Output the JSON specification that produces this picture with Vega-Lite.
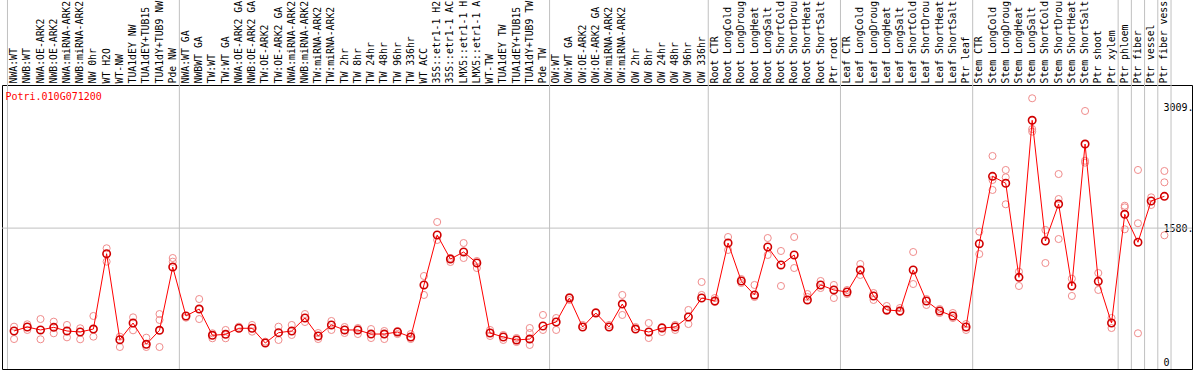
{
  "$schema": "https://vega.github.io/schema/vega-lite/v6.json",
  "width": 1190,
  "height": 284,
  "autosize": {"type": "none"},
  "padding": {"left": 2, "top": 85, "right": 2, "bottom": 1},
  "background": "white",
  "config": {"view": {"stroke": "black", "strokeWidth": 1}},
  "datasets": {
    "means": [
      {"i":0,"label":"NWA:WT","value":366},{"i":1,"label":"NWB:WT","value":413},{"i":2,"label":"NWA:OE-ARK2","value":378},{"i":3,"label":"NWB:OE-ARK2","value":409},
      {"i":4,"label":"NWA:miRNA-ARK2","value":366},{"i":5,"label":"NWB:miRNA-ARK2","value":354},{"i":6,"label":"NW 0hr","value":389},{"i":7,"label":"WT H2O","value":1278},
      {"i":8,"label":"WT-NW","value":263},{"i":9,"label":"TUA1dEY NW","value":460},{"i":10,"label":"TUA1dEY+TUB15","value":209},{"i":11,"label":"TUA1dY+TUB9 NW","value":374},
      {"i":12,"label":"Pde NW","value":1121},{"i":13,"label":"NWA:WT GA","value":543},{"i":14,"label":"NWBWT GA","value":625},{"i":15,"label":"TW:WT","value":315},
      {"i":16,"label":"TW:WT GA","value":327},{"i":17,"label":"NWA:OE-ARK2 GA","value":398},{"i":18,"label":"NWB:OE-ARK2 GA","value":398},{"i":19,"label":"TW:OE-ARK2","value":224},
      {"i":20,"label":"TW:OE-ARK2 GA","value":346},{"i":21,"label":"NWA:miRNA-ARK2 ","value":366},{"i":22,"label":"NWB:miRNA-ARK2 ","value":519},{"i":23,"label":"TW:miRNA-ARK2","value":307},
      {"i":24,"label":"TW:miRNA-ARK2 ","value":437},{"i":25,"label":"TW 2hr","value":378},{"i":26,"label":"TW 8hr","value":378},{"i":27,"label":"TW 24hr","value":330},
      {"i":28,"label":"TW 48hr","value":330},{"i":29,"label":"TW 96hr","value":354},{"i":30,"label":"TW 336hr","value":295},{"i":31,"label":"WT ACC","value":909},
      {"i":32,"label":"35S::etr1-1 H2","value":1499},{"i":33,"label":"35S::etr1-1 AC","value":1215},{"i":34,"label":"LMX5::etr1-1 H","value":1298},{"i":35,"label":"LMX5::etr1-1 A","value":1168},
      {"i":36,"label":"WT-TW","value":342},{"i":37,"label":"TUA1dEY TW","value":295},{"i":38,"label":"TUA1dEY+TUB15 ","value":260},{"i":39,"label":"TUA1dY+TUB9 TW","value":271},
      {"i":40,"label":"Pde TW","value":425},{"i":41,"label":"OW:WT","value":472},{"i":42,"label":"OW:WT GA","value":755},{"i":43,"label":"OW:OE-ARK2","value":413},
      {"i":44,"label":"OW:OE-ARK2 GA","value":578},{"i":45,"label":"OW:miRNA-ARK2","value":413},{"i":46,"label":"OW:miRNA-ARK2 ","value":684},{"i":47,"label":"OW 2hr","value":389},
      {"i":48,"label":"OW 8hr","value":354},{"i":49,"label":"OW 24hr","value":401},{"i":50,"label":"OW 48hr","value":413},{"i":51,"label":"OW 96hr","value":531},
      {"i":52,"label":"OW 336hr","value":755},{"i":53,"label":"Root CTR","value":720},{"i":54,"label":"Root LongCold","value":1404},{"i":55,"label":"Root LongDroug","value":956},
      {"i":56,"label":"Root LongHeat","value":791},{"i":57,"label":"Root LongSalt","value":1357},{"i":58,"label":"Root ShortCold","value":1145},{"i":59,"label":"Root ShortDrou","value":1263},
      {"i":60,"label":"Root ShortHeat","value":732},{"i":61,"label":"Root ShortSalt","value":909},{"i":62,"label":"Ptr root","value":850},{"i":63,"label":"Leaf CTR","value":826},
      {"i":64,"label":"Leaf LongCold","value":1086},{"i":65,"label":"Leaf LongDroug","value":779},{"i":66,"label":"Leaf LongHeat","value":614},{"i":67,"label":"Leaf LongSalt","value":602},
      {"i":68,"label":"Leaf ShortCold","value":1086},{"i":69,"label":"Leaf ShortDrou","value":720},{"i":70,"label":"Leaf ShortHeat","value":602},{"i":71,"label":"Leaf ShortSalt","value":543},
      {"i":72,"label":"Ptr leaf","value":413},{"i":73,"label":"Stem CTR","value":1396},{"i":74,"label":"Stem LongCold","value":2191},{"i":75,"label":"Stem LongDroug","value":2109},
      {"i":76,"label":"Stem LongHeat","value":999},{"i":77,"label":"Stem LongSalt","value":2852},{"i":78,"label":"Stem ShortCold","value":1428},{"i":79,"label":"Stem ShortDrou","value":1864},
      {"i":80,"label":"Stem ShortHeat","value":897},{"i":81,"label":"Stem ShortSalt","value":2572},{"i":82,"label":"Ptr shoot","value":952},{"i":83,"label":"Ptr xylem","value":460},
      {"i":84,"label":"Ptr phloem","value":1743},{"i":85,"label":"Ptr fiber","value":1413},{"i":86,"label":"Ptr vessel","value":1900},{"i":87,"label":"Ptr fiber vess","value":1955}
    ],
    "reps": [
      {"label":"NWA:WT","value":417},{"label":"NWA:WT","value":271},
      {"label":"NWB:WT","value":445},{"label":"NWB:WT","value":378},
      {"label":"NWA:OE-ARK2","value":507},{"label":"NWA:OE-ARK2","value":268},
      {"label":"NWB:OE-ARK2","value":476},{"label":"NWB:OE-ARK2","value":339},
      {"label":"NWA:miRNA-ARK2","value":437},{"label":"NWA:miRNA-ARK2","value":291},
      {"label":"NWB:miRNA-ARK2","value":398},{"label":"NWB:miRNA-ARK2","value":268},
      {"label":"NW 0hr","value":543},{"label":"NW 0hr","value":299},
      {"label":"WT H2O","value":1342},{"label":"WT H2O","value":1184},
      {"label":"WT-NW","value":299},{"label":"WT-NW","value":177},
      {"label":"TUA1dEY NW","value":527},{"label":"TUA1dEY NW","value":374},
      {"label":"TUA1dEY+TUB15","value":287},{"label":"TUA1dEY+TUB15","value":177},
      {"label":"TUA1dY+TUB9 NW","value":566},{"label":"TUA1dY+TUB9 NW","value":496},{"label":"TUA1dY+TUB9 NW","value":177},
      {"label":"Pde NW","value":1184},{"label":"Pde NW","value":1227},
      {"label":"NWA:WT GA","value":523},
      {"label":"NWBWT GA","value":743},{"label":"NWBWT GA","value":507},
      {"label":"TW:WT","value":339},{"label":"TW:WT","value":280},
      {"label":"TW:WT GA","value":378},{"label":"TW:WT GA","value":280},
      {"label":"NWA:OE-ARK2 GA","value":417},
      {"label":"NWB:OE-ARK2 GA","value":437},{"label":"NWB:OE-ARK2 GA","value":358},
      {"label":"TW:OE-ARK2","value":240},
      {"label":"TW:OE-ARK2 GA","value":417},{"label":"TW:OE-ARK2 GA","value":260},
      {"label":"NWA:miRNA-ARK2 ","value":437},{"label":"NWA:miRNA-ARK2 ","value":319},
      {"label":"NWB:miRNA-ARK2 ","value":566},{"label":"NWB:miRNA-ARK2 ","value":472},
      {"label":"TW:miRNA-ARK2","value":342},{"label":"TW:miRNA-ARK2","value":271},
      {"label":"TW:miRNA-ARK2 ","value":484},{"label":"TW:miRNA-ARK2 ","value":378},
      {"label":"TW 2hr","value":413},{"label":"TW 2hr","value":342},
      {"label":"TW 8hr","value":401},{"label":"TW 8hr","value":330},
      {"label":"TW 24hr","value":389},{"label":"TW 24hr","value":283},
      {"label":"TW 48hr","value":366},{"label":"TW 48hr","value":271},
      {"label":"TW 96hr","value":366},{"label":"TW 96hr","value":330},
      {"label":"TW 336hr","value":330},{"label":"TW 336hr","value":271},
      {"label":"WT ACC","value":1015},{"label":"WT ACC","value":791},
      {"label":"35S::etr1-1 H2","value":1652},{"label":"35S::etr1-1 H2","value":1440},
      {"label":"35S::etr1-1 AC","value":1227},{"label":"35S::etr1-1 AC","value":1180},
      {"label":"LMX5::etr1-1 H","value":1404},{"label":"LMX5::etr1-1 H","value":1227},
      {"label":"LMX5::etr1-1 A","value":1192},{"label":"LMX5::etr1-1 A","value":1109},
      {"label":"WT-TW","value":378},{"label":"WT-TW","value":307},
      {"label":"TUA1dEY TW","value":319},{"label":"TUA1dEY TW","value":260},
      {"label":"TUA1dEY+TUB15 ","value":283},{"label":"TUA1dEY+TUB15 ","value":236},
      {"label":"TUA1dY+TUB9 TW","value":401},{"label":"TUA1dY+TUB9 TW","value":342},{"label":"TUA1dY+TUB9 TW","value":201},
      {"label":"Pde TW","value":555},{"label":"Pde TW","value":378},
      {"label":"OW:WT","value":519},{"label":"OW:WT","value":378},
      {"label":"OW:WT GA","value":767},{"label":"OW:WT GA","value":732},
      {"label":"OW:OE-ARK2","value":437},
      {"label":"OW:OE-ARK2 GA","value":590},
      {"label":"OW:miRNA-ARK2","value":437},
      {"label":"OW:miRNA-ARK2 ","value":791},{"label":"OW:miRNA-ARK2 ","value":555},
      {"label":"OW 2hr","value":413},
      {"label":"OW 8hr","value":460},{"label":"OW 8hr","value":283},
      {"label":"OW 24hr","value":413},{"label":"OW 24hr","value":354},
      {"label":"OW 48hr","value":437},{"label":"OW 48hr","value":378},
      {"label":"OW 96hr","value":614},{"label":"OW 96hr","value":448},
      {"label":"OW 336hr","value":944},{"label":"OW 336hr","value":791},
      {"label":"Root CTR","value":755},{"label":"Root CTR","value":708},
      {"label":"Root LongCold","value":1475},{"label":"Root LongCold","value":1322},
      {"label":"Root LongDroug","value":979},{"label":"Root LongDroug","value":932},
      {"label":"Root LongHeat","value":909},{"label":"Root LongHeat","value":767},
      {"label":"Root LongSalt","value":1463},{"label":"Root LongSalt","value":1263},
      {"label":"Root ShortCold","value":1310},{"label":"Root ShortCold","value":897},
      {"label":"Root ShortDrou","value":1475},{"label":"Root ShortDrou","value":1109},
      {"label":"Root ShortHeat","value":802},{"label":"Root ShortHeat","value":767},
      {"label":"Root ShortSalt","value":956},{"label":"Root ShortSalt","value":873},
      {"label":"Ptr root","value":909},{"label":"Ptr root","value":755},
      {"label":"Leaf CTR","value":850},{"label":"Leaf CTR","value":802},
      {"label":"Leaf LongCold","value":1156},{"label":"Leaf LongCold","value":1027},
      {"label":"Leaf LongDroug","value":814},{"label":"Leaf LongDroug","value":732},
      {"label":"Leaf LongHeat","value":661},{"label":"Leaf LongHeat","value":602},
      {"label":"Leaf LongSalt","value":637},{"label":"Leaf LongSalt","value":590},
      {"label":"Leaf ShortCold","value":1298},{"label":"Leaf ShortCold","value":920},
      {"label":"Leaf ShortDrou","value":743},{"label":"Leaf ShortDrou","value":673},
      {"label":"Leaf ShortHeat","value":625},{"label":"Leaf ShortHeat","value":578},
      {"label":"Leaf ShortSalt","value":578},{"label":"Leaf ShortSalt","value":519},
      {"label":"Ptr leaf","value":448},{"label":"Ptr leaf","value":378},
      {"label":"Stem CTR","value":1538},{"label":"Stem CTR","value":1274},
      {"label":"Stem LongCold","value":2431},{"label":"Stem LongCold","value":2030},{"label":"Stem LongCold","value":2148},
      {"label":"Stem LongDroug","value":2266},{"label":"Stem LongDroug","value":2179},{"label":"Stem LongDroug","value":1861},
      {"label":"Stem LongHeat","value":1066},{"label":"Stem LongHeat","value":897},
      {"label":"Stem LongSalt","value":3112},{"label":"Stem LongSalt","value":2718},{"label":"Stem LongSalt","value":2749},
      {"label":"Stem ShortCold","value":1558},{"label":"Stem ShortCold","value":1168},
      {"label":"Stem ShortDrou","value":2218},{"label":"Stem ShortDrou","value":1923},{"label":"Stem ShortDrou","value":1451},
      {"label":"Stem ShortHeat","value":983},{"label":"Stem ShortHeat","value":779},
      {"label":"Stem ShortSalt","value":2962},{"label":"Stem ShortSalt","value":2375},{"label":"Stem ShortSalt","value":2352},
      {"label":"Ptr shoot","value":1050},{"label":"Ptr shoot","value":850},
      {"label":"Ptr xylem","value":519},{"label":"Ptr xylem","value":401},
      {"label":"Ptr phloem","value":1844},{"label":"Ptr phloem","value":1825},{"label":"Ptr phloem","value":1566},
      {"label":"Ptr fiber","value":2266},{"label":"Ptr fiber","value":1637},{"label":"Ptr fiber","value":339},
      {"label":"Ptr vessel","value":1943},{"label":"Ptr vessel","value":1853},
      {"label":"Ptr fiber vess","value":2254},{"label":"Ptr fiber vess","value":2120},{"label":"Ptr fiber vess","value":1495}
    ],
    "seps": [
      {"label":"NWA:WT"},{"label":"NWA:WT GA"},{"label":"OW:WT"},{"label":"Root CTR"},{"label":"Leaf CTR"},
      {"label":"Stem CTR"},{"label":"Ptr phloem"},{"label":"Ptr fiber"},{"label":"Ptr vessel"},{"label":"Ptr fiber vess"}
    ],
    "title": [{"name": "Potri.010G071200"}]
  },
  "layer": [
    {
      "data": {"name": "seps"},
      "mark": {"type": "rule", "color": "#c0c0c0", "strokeWidth": 1},
      "encoding": {
        "x": {"field": "label", "type": "nominal", "bandPosition": 0,
          "scale": {"type": "band", "paddingInner": 0, "paddingOuter": 1.769, "align": 0.2065, "round": false,
            "domain": ["NWA:WT","NWB:WT","NWA:OE-ARK2","NWB:OE-ARK2","NWA:miRNA-ARK2","NWB:miRNA-ARK2","NW 0hr","WT H2O","WT-NW","TUA1dEY NW","TUA1dEY+TUB15","TUA1dY+TUB9 NW","Pde NW","NWA:WT GA","NWBWT GA","TW:WT","TW:WT GA","NWA:OE-ARK2 GA","NWB:OE-ARK2 GA","TW:OE-ARK2","TW:OE-ARK2 GA","NWA:miRNA-ARK2 ","NWB:miRNA-ARK2 ","TW:miRNA-ARK2","TW:miRNA-ARK2 ","TW 2hr","TW 8hr","TW 24hr","TW 48hr","TW 96hr","TW 336hr","WT ACC","35S::etr1-1 H2","35S::etr1-1 AC","LMX5::etr1-1 H","LMX5::etr1-1 A","WT-TW","TUA1dEY TW","TUA1dEY+TUB15 ","TUA1dY+TUB9 TW","Pde TW","OW:WT","OW:WT GA","OW:OE-ARK2","OW:OE-ARK2 GA","OW:miRNA-ARK2","OW:miRNA-ARK2 ","OW 2hr","OW 8hr","OW 24hr","OW 48hr","OW 96hr","OW 336hr","Root CTR","Root LongCold","Root LongDroug","Root LongHeat","Root LongSalt","Root ShortCold","Root ShortDrou","Root ShortHeat","Root ShortSalt","Ptr root","Leaf CTR","Leaf LongCold","Leaf LongDroug","Leaf LongHeat","Leaf LongSalt","Leaf ShortCold","Leaf ShortDrou","Leaf ShortHeat","Leaf ShortSalt","Ptr leaf","Stem CTR","Stem LongCold","Stem LongDroug","Stem LongHeat","Stem LongSalt","Stem ShortCold","Stem ShortDrou","Stem ShortHeat","Stem ShortSalt","Ptr shoot","Ptr xylem","Ptr phloem","Ptr fiber","Ptr vessel","Ptr fiber vess"]},
          "axis": {"orient": "top", "title": null, "domain": false, "ticks": false, "grid": false,
            "labelAngle": -90, "labelAlign": "left", "labelBaseline": "middle", "labelPadding": 2,
            "labelFont": "DejaVu Sans Mono", "labelFontSize": 9.8, "labelColor": "black",
            "labelOverlap": false, "labelLimit": 300, "labelBound": false}},
        "y": {"datum": -82.6, "type": "quantitative",
          "scale": {"domain": [-82.6, 3268.6], "nice": false, "zero": false},
          "axis": {"orient": "right", "title": null, "values": [0, 1580, 3009], "grid": false, "ticks": false, "domain": false,
            "labelExpr": "datum.value == 0 ? '0' : datum.value + '.'", "labelAlign": "left", "labelBaseline": "middle",
            "labelPadding": -29, "labelFont": "DejaVu Sans Mono", "labelFontSize": 10, "labelColor": "black", "labelFlush": false, "labelOverlap": false}},
        "y2": {"datum": 4272}
      }
    },
    {
      "data": {"values": [{"label": "Ptr fiber vess"}]},
      "mark": {"type": "rule", "color": "#c0c0c0", "strokeWidth": 1},
      "encoding": {
        "x": {"field": "label", "type": "nominal", "bandPosition": 1},
        "y": {"datum": -82.6, "type": "quantitative"},
        "y2": {"datum": 4272}
      }
    },
    {
      "data": {"values": [{"v": 1580}]},
      "mark": {"type": "rule", "color": "#c0c0c0", "strokeWidth": 1},
      "encoding": {"y": {"field": "v", "type": "quantitative"}}
    },
    {
      "data": {"name": "reps"},
      "mark": {"type": "point", "shape": "circle", "filled": false, "color": "#f08c8c", "size": 50, "strokeWidth": 1, "opacity": 1},
      "encoding": {
        "x": {"field": "label", "type": "nominal"},
        "y": {"field": "value", "type": "quantitative"}
      }
    },
    {
      "data": {"name": "means"},
      "mark": {"type": "line", "color": "#ff0000", "strokeWidth": 1},
      "encoding": {
        "x": {"field": "label", "type": "nominal"},
        "y": {"field": "value", "type": "quantitative"},
        "order": {"field": "i", "type": "quantitative"}
      }
    },
    {
      "data": {"name": "means"},
      "mark": {"type": "point", "shape": "circle", "filled": false, "color": "#d00000", "size": 55, "strokeWidth": 1.6, "opacity": 1},
      "encoding": {
        "x": {"field": "label", "type": "nominal"},
        "y": {"field": "value", "type": "quantitative"}
      }
    },
    {
      "data": {"name": "title"},
      "mark": {"type": "text", "color": "#ff0000", "font": "DejaVu Sans Mono", "fontSize": 10, "align": "left", "baseline": "middle", "dx": -2},
      "encoding": {
        "x": {"datum": "NWA:WT", "type": "nominal", "bandPosition": 0},
        "y": {"datum": 3127, "type": "quantitative"},
        "text": {"field": "name"}
      }
    }
  ]
}
